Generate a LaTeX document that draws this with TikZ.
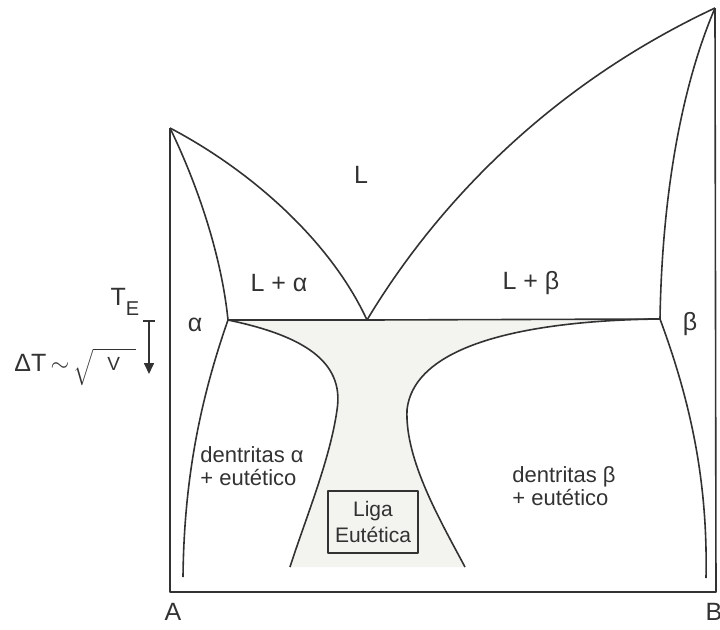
\documentclass[tikz,border=0pt]{standalone}
\usepackage{fontspec}
\setmainfont{Liberation Sans}
\usetikzlibrary{arrows.meta}
\definecolor{lineink}{RGB}{50,50,50}
\definecolor{eutshade}{RGB}{243,243,240}

\begin{document}
\begin{tikzpicture}[x=0.5pt, y=-0.5pt, >={Triangle[width=5pt,length=5.5pt]}, line join=round]
  \tikzstyle{phase}=[draw=lineink,line width=0.8pt]
  \tikzstyle{lbl}=[font=\fontsize{10.5}{13}\selectfont,text=lineink,inner sep=1pt]
  \tikzstyle{big}=[lbl,font=\fontsize{12.5}{15}\selectfont]
  \tikzstyle{dend}=[lbl,font=\fontsize{11}{11.5}\selectfont,anchor=west,align=left]
  \useasboundingbox (0,0) rectangle (720,629);

  % key points of the diagram
  \coordinate (ta) at (170,128);
  \coordinate (tb) at (715,8);
  \coordinate (eut) at (367,320);
  \coordinate (sa) at (228,320);
  \coordinate (sb) at (660,319);
  \coordinate (oa) at (170,592);
  \coordinate (ob) at (716,592);
  \coordinate (wa) at (337,410);
  \coordinate (wb) at (407,410);
  \coordinate (ea) at (290,567);
  \coordinate (eb) at (465,567);

  % coupled zone
  \fill[eutshade] (sa) .. controls (300,335) and (345,360) .. (wa) .. controls (330,460) and (305,520) .. (ea)
    -- (eb) .. controls (440,520) and (405,460) .. (wb) .. controls (415,335) and (560,320) .. (sb) -- cycle;

  % axes
  \draw[phase] (ta) -- (oa) -- (ob) -- (tb);

  % liquidus and solidus
  \draw[phase] (ta) .. controls (250,170) and (330,240) .. (eut);
  \draw[phase] (ta) .. controls (200,190) and (222,260) .. (sa);
  \draw[phase] (eut) .. controls (430,215) and (540,90) .. (tb);
  \draw[phase] (tb) .. controls (680,90) and (662,200) .. (sb);
  \draw[phase] (sa) -- (eut) -- (sb);

  % solvus lines
  \draw[phase] (sa) .. controls (200,400) and (184,480) .. (183,577);
  \draw[phase] (sb) .. controls (690,400) and (708,480) .. (706,578);

  % coupled zone limits
  \draw[phase] (sa) .. controls (300,335) and (345,360) .. (wa) .. controls (330,460) and (305,520) .. (ea);
  \draw[phase] (sb) .. controls (560,320) and (415,335) .. (wb) .. controls (405,460) and (440,520) .. (eb);

  % labels
  \node[big] (liq) at (361,175) {L};
  \node[big] (lalpha) at (279,283) {L + α};
  \node[big] (lbeta) at (531,283) {L + β};
  \node[big] (alpha) at (195,325) {α};
  \node[big] (beta) at (690,324) {β};
  \node[dend] (dena) at (198,466) {dentritas α\\+ eutético};
  \node[dend] (denb) at (510,486) {dentritas β\\+ eutético};
  \node[lbl,draw=lineink,line width=0.7pt,align=center,minimum width=45pt,minimum height=31pt] (liga) at (373,522) {Liga\\Eutética};
  \node[big] (ca) at (173,612) {A};
  \node[big] (cb) at (714,612) {B};

  % undercooling
  \node[big] (te) at (125,302) {T\raisebox{-0.7ex}{\fontsize{10}{11}\selectfont E}};
  \node[big,anchor=west] (dt) at (12,367) {ΔT\,$\sim$\,\raisebox{-0.2ex}{$\sqrt{\mathstrut\hspace{7pt}\mbox{\fontsize{9.5}{10}\selectfont\raisebox{0.4ex}{V}}\hspace{8pt}}$}};
  \coordinate (dtop) at (149,321);
  \coordinate (dbot) at (149,374);
  \draw[phase] (143,321) -- (155,321);
  \draw[phase,->] (dtop) -- (dbot);
\end{tikzpicture}
\end{document}
